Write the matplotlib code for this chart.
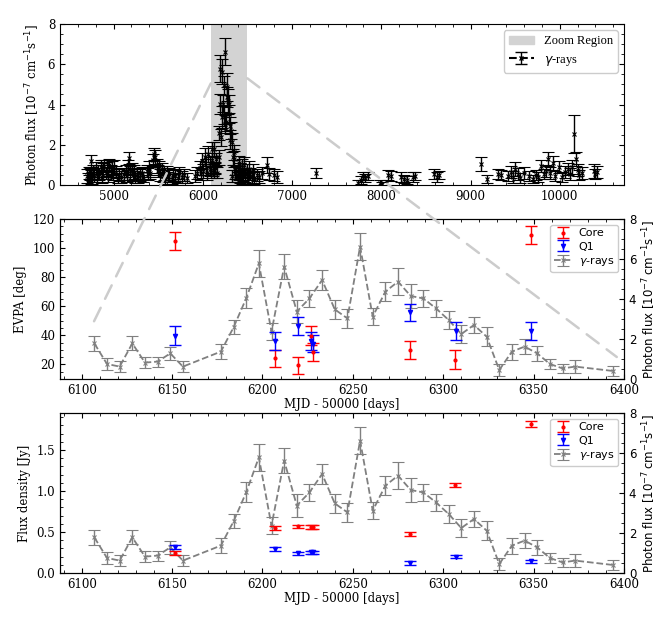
import matplotlib
matplotlib.use("Agg")
import numpy as np
import matplotlib.pyplot as plt
from matplotlib.patches import ConnectionPatch, Patch

plt.rcParams["font.family"] = "DejaVu Serif"
plt.rcParams["xtick.direction"] = "in"
plt.rcParams["ytick.direction"] = "in"
plt.rcParams["xtick.top"] = True
plt.rcParams["ytick.right"] = True
plt.rcParams["xtick.minor.visible"] = True
plt.rcParams["ytick.minor.visible"] = True
plt.rcParams["font.size"] = 8.5

# ---- zoomed gamma-ray light curve (weekly bins), MJD-50000, 1e-7 ph cm^-1 s^-1
g_mjd = [6107, 6114, 6121, 6128, 6135, 6142, 6149, 6156, 6177, 6184, 6191,
         6198, 6205, 6212, 6219, 6226, 6233, 6240, 6247, 6254, 6261, 6268,
         6275, 6282, 6289, 6296, 6303, 6310, 6317, 6324, 6331, 6338, 6345,
         6352, 6359, 6366, 6373, 6394]
g_flux = [1.78, 0.75, 0.62, 1.78, 0.82, 0.87, 1.28, 0.62, 1.37, 2.58, 4.03,
          5.78, 2.37, 5.62, 3.37, 4.03, 4.95, 3.48, 3.03, 6.62, 3.12, 4.37,
          4.87, 4.15, 4.03, 3.53, 2.95, 2.25, 2.70, 2.12, 0.45, 1.37, 1.62,
          1.28, 0.75, 0.53, 0.62, 0.40]
g_err = [0.37, 0.29, 0.28, 0.35, 0.29, 0.25, 0.33, 0.28, 0.36, 0.35, 0.50,
         0.68, 0.42, 0.62, 0.56, 0.42, 0.48, 0.46, 0.46, 0.67, 0.43, 0.48,
         0.68, 0.62, 0.43, 0.43, 0.43, 0.46, 0.42, 0.46, 0.28, 0.40, 0.38,
         0.39, 0.25, 0.23, 0.33, 0.25]

# ---- long-term gamma-ray light curve outside the zoom window
pre_mjd = [4705, 4712, 4720, 4728, 4735, 4742, 4749, 4756, 4770, 4784, 4798,
           4812, 4826, 4840, 4854, 4868, 4882, 4896, 4910, 4924, 4938, 4952,
           4966, 4980, 4994, 5008, 5022, 5050, 5064, 5078, 5120, 5134, 5148,
           5162, 5176, 5190, 5204, 5218, 5232, 5246, 5260, 5274, 5300, 5314,
           5328, 5370, 5384, 5398, 5412, 5440, 5454, 5468, 5482, 5496, 5510,
           5524, 5538, 5552, 5566, 5580, 5594, 5608, 5622, 5650, 5664, 5692,
           5720, 5734, 5762, 5790, 5818, 5910, 5938, 5966, 5980, 5994, 6008,
           6022, 6036, 6050, 6064, 6078, 6086, 6093, 6100]
pre_flux = [0.45, 0.30, 0.60, 0.25, 0.55, 0.40, 1.20, 0.35, 0.70, 0.50, 0.85,
            0.45, 0.65, 0.55, 0.90, 0.40, 0.75, 0.95, 0.60, 0.80, 0.45, 1.00,
            0.70, 0.85, 0.55, 0.90, 0.65, 0.35, 0.50, 0.40, 0.55, 0.70, 0.45,
            0.90, 1.35, 0.60, 0.80, 0.50, 0.65, 0.40, 0.55, 0.35, 0.50, 0.60,
            0.40, 0.70, 0.55, 0.85, 0.60, 1.25, 1.55, 1.40, 0.95, 0.70, 0.85,
            0.50, 0.80, 0.45, 0.60, 0.35, 0.65, 0.40, 0.55, 0.30, 0.50, 0.45,
            0.35, 0.60, 0.40, 0.50, 0.35, 0.45, 0.60, 0.85, 0.55, 1.20, 0.70,
            1.40, 0.90, 0.60, 1.55, 0.80, 1.00, 0.65, 1.25]
pre_err = [0.35, 0.30, 0.30, 0.25, 0.30, 0.35, 0.30, 0.30, 0.30, 0.35, 0.30,
           0.30, 0.35, 0.30, 0.35, 0.30, 0.35, 0.30, 0.30, 0.35, 0.30, 0.30,
           0.30, 0.35, 0.30, 0.35, 0.30, 0.25, 0.30, 0.30, 0.30, 0.30, 0.30,
           0.35, 0.30, 0.35, 0.30, 0.30, 0.35, 0.30, 0.30, 0.25, 0.30, 0.30,
           0.25, 0.30, 0.30, 0.35, 0.30, 0.30, 0.30, 0.35, 0.35, 0.30, 0.35,
           0.30, 0.30, 0.30, 0.35, 0.30, 0.30, 0.25, 0.30, 0.25, 0.30, 0.30,
           0.25, 0.30, 0.30, 0.30, 0.25, 0.30, 0.30, 0.35, 0.30, 0.40, 0.35,
           0.45, 0.40, 0.35, 0.40, 0.35, 0.40, 0.30, 0.35]
post_mjd = [6401, 6408, 6415, 6422, 6436, 6443, 6450, 6464, 6478, 6492, 6506,
            6520, 6534, 6548, 6562, 6576, 6604, 6632, 6660, 6716, 6744, 6800,
            6828, 7270, 7740, 7770, 7800, 7820, 7850, 7990, 8010, 8080, 8110,
            8220, 8250, 8290, 8350, 8380, 8590, 8620, 8650, 9120, 9180, 9310,
            9340, 9420, 9450, 9480, 9500, 9530, 9560, 9600, 9660, 9700, 9730,
            9760, 9790, 9820, 9850, 9870, 9890, 9920, 9950, 9990, 10030, 10060,
            10090, 10110, 10140, 10165, 10180, 10200, 10220, 10250, 10380,
            10400, 10420]
post_flux = [0.55, 1.10, 0.40, 0.75, 0.30, 0.90, 0.50, 1.00, 0.45, 0.70, 0.35,
             0.80, 0.55, 0.40, 0.70, 0.35, 0.50, 0.40, 0.60, 1.00, 0.55, 0.50,
             0.40, 0.60, 0.10, 0.25, 0.45, 0.35, 0.45, 0.10, 0.05, 0.50, 0.45,
             0.40, 0.30, 0.25, 0.40, 0.45, 0.55, 0.40, 0.50, 1.05, 0.30, 0.55,
             0.50, 0.45, 0.65, 0.40, 0.80, 0.55, 0.35, 0.60, 0.45, 0.30, 0.50,
             0.40, 0.95, 0.55, 0.70, 1.30, 0.60, 1.10, 0.45, 0.90, 0.40, 0.65,
             0.80, 0.55, 0.90, 2.55, 1.30, 0.75, 0.50, 0.60, 0.70, 0.55, 0.65]
post_err = [0.30, 0.35, 0.30, 0.35, 0.25, 0.40, 0.30, 0.40, 0.30, 0.35, 0.30,
            0.40, 0.30, 0.30, 0.35, 0.30, 0.30, 0.30, 0.30, 0.40, 0.30, 0.30,
            0.30, 0.25, 0.15, 0.20, 0.20, 0.20, 0.20, 0.15, 0.10, 0.25, 0.25,
            0.25, 0.20, 0.20, 0.25, 0.20, 0.25, 0.25, 0.20, 0.35, 0.20, 0.25,
            0.25, 0.25, 0.30, 0.30, 0.35, 0.30, 0.25, 0.30, 0.25, 0.20, 0.25,
            0.25, 0.30, 0.25, 0.30, 0.35, 0.30, 0.35, 0.25, 0.30, 0.25, 0.30,
            0.30, 0.30, 0.35, 0.95, 0.35, 0.30, 0.25, 0.30, 0.35, 0.25, 0.30]

# ---- VLBI components
core_mjd = [6151.7, 6206.8, 6219.5, 6227.0, 6228.2, 6281.5, 6306.6, 6348.6]
core_evpa = [104.9, 24.1, 19.3, 39.9, 28.4, 29.8, 23.4, 109.0]
core_evpa_err = [5.9, 6.0, 6.0, 6.3, 6.3, 6.0, 6.3, 6.3]
core_s = [0.246, 0.548, 0.568, 0.560, 0.562, 0.480, 1.076, 1.820]
core_s_err = [0.025, 0.02, 0.02, 0.02, 0.02, 0.025, 0.025, 0.035]

q1_mjd = [6151.7, 6206.8, 6219.5, 6227.0, 6228.2, 6281.8, 6306.8, 6348.6]
q1_evpa = [39.9, 36.0, 46.2, 36.0, 34.4, 55.8, 42.8, 42.8]
q1_evpa_err = [6.3, 6.2, 6.2, 6.0, 6.0, 6.0, 6.3, 6.3]
q1_s = [0.318, 0.294, 0.238, 0.250, 0.250, 0.117, 0.197, 0.141]
q1_s_err = [0.02, 0.02, 0.02, 0.02, 0.02, 0.025, 0.02, 0.02]

zoom_lo, zoom_hi = 6090, 6500

W, H = 672, 621
fig = plt.figure(figsize=(W / 100, H / 100), dpi=100)
L, R = 60, 624
ax0 = fig.add_axes([L / W, 1 - 185 / H, (R - L) / W, 161 / H])
ax1 = fig.add_axes([L / W, 1 - 379 / H, (R - L) / W, 160 / H])
ax2 = fig.add_axes([L / W, 1 - 573 / H, (R - L) / W, 160 / H])

SANS = "DejaVu Sans"
GREY = "#808080"
ekw = dict(capsize=4, elinewidth=1.0, capthick=1.0)

# ---- top panel
all_mjd = np.array(pre_mjd + g_mjd + post_mjd)
all_flux = np.array(pre_flux + g_flux + post_flux)
all_err = np.array(pre_err + g_err + post_err)
ax0.axvspan(zoom_lo, zoom_hi, color="#d3d3d3", lw=0, zorder=0)
ax0.errorbar(all_mjd, all_flux, yerr=all_err, fmt="x", ls="none", color="k",
             ms=3.5, mew=0.8, **ekw)
ax0.set_xlim(4400, 10720)
ax0.set_ylim(0, 8)
ax0.set_yticks([0, 2, 4, 6, 8])
ax0.set_xticks([5000, 6000, 7000, 8000, 9000, 10000])
ax0.set_ylabel(r"Photon flux [$10^{-7}$ cm$^{-1}$s$^{-1}$]", fontsize=8.5)
h_zoom = Patch(color="#d3d3d3", label="Zoom Region")
h_g = ax0.errorbar([np.nan], [np.nan], yerr=[np.nan], fmt="x--", color="k",
                   ms=3.5, label=r"$\gamma$-rays", **ekw)
ax0.legend(handles=[h_zoom, h_g], loc="upper right",
           prop={"family": "Liberation Serif", "size": 9}, framealpha=1,
           edgecolor="#cccccc", fancybox=True)


def lower_panel(ax, core_y, core_e, q1_y, q1_e):
    axr = ax.twinx()
    axr.errorbar(g_mjd, g_flux, yerr=g_err, fmt="x--", color=GREY, ms=3.5,
                 mew=0.8, lw=1.3, label=r"$\gamma$-rays", zorder=1, **ekw)
    ax.errorbar(core_mjd, core_y, yerr=core_e, fmt=".", color="red", ms=4,
                label="Core", zorder=3, **ekw)
    ax.errorbar(q1_mjd, q1_y, yerr=q1_e, fmt="v", color="blue", ms=3,
                label="Q1", zorder=3, **ekw)
    ax.set_zorder(axr.get_zorder() + 1)
    ax.patch.set_visible(False)
    ax.set_xlim(6088, 6400)
    ax.set_xticks([6100, 6150, 6200, 6250, 6300, 6350, 6400])
    ax.tick_params(right=False, which="both")
    axr.set_ylim(0, 8)
    axr.set_yticks([0, 2, 4, 6, 8])
    for t in axr.get_yticklabels():
        t.set_fontfamily(SANS)
    axr.set_ylabel(r"Photon flux [$10^{-7}\,$cm$^{-1}$s$^{-1}$]",
                   family=SANS, fontsize=8.5, labelpad=3)
    ax.set_xlabel("MJD - 50000 [days]", fontsize=8.5, labelpad=1)
    h1, l1 = ax.get_legend_handles_labels()
    h2, l2 = axr.get_legend_handles_labels()
    ax.legend(h1 + h2, l1 + l2, loc="upper right",
              prop={"family": SANS, "size": 8}, framealpha=1,
              edgecolor="#cccccc", handlelength=1.6, handletextpad=0.6,
              borderpad=0.35, labelspacing=0.3)
    return axr


ax1r = lower_panel(ax1, core_evpa, core_evpa_err, q1_evpa, q1_evpa_err)
ax1.set_ylim(10, 120)
ax1.set_yticks([20, 40, 60, 80, 100, 120])
ax1.set_ylabel("EVPA [deg]", fontsize=8.5)

ax2r = lower_panel(ax2, core_s, core_s_err, q1_s, q1_s_err)
ax2.set_ylim(0, 1.95)
ax2.set_yticks([0.0, 0.5, 1.0, 1.5])
ax2.set_ylabel("Flux density [Jy]", fontsize=8.5)

# ---- dashed zoom connectors
for (xa, ya), (xb, yb) in [((zoom_lo, 5.05), (6105, 2.55)),
                           ((zoom_hi, 5.3), (6396, 1.1))]:
    cp = ConnectionPatch((xa, ya), (xb, yb), coordsA=ax0.transData,
                         coordsB=ax1r.transData, color="#cccccc", lw=1.8,
                         ls=(0, (6, 4)), zorder=10)
    fig.add_artist(cp)

fig.savefig("out.png", dpi=100)
